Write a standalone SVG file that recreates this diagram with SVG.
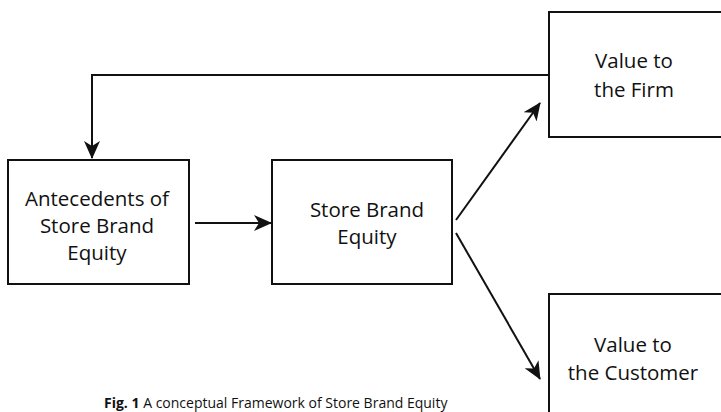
<svg xmlns="http://www.w3.org/2000/svg" width="721" height="412" viewBox="0 0 721 412">
<style>
.box{fill:#fff;stroke:#111;stroke-width:2}
.t{font-family:"Open Sans","Noto Sans",sans-serif;font-size:20.5px;fill:#111;text-anchor:middle}
.c{stroke:#111;stroke-width:2;fill:none}
.cap{font-family:"Open Sans","Noto Sans",sans-serif;font-size:14px;fill:#111}
</style>
<defs>
<marker id="ah" markerWidth="18" markerHeight="16" refX="17" refY="8" orient="auto" markerUnits="userSpaceOnUse">
<path d="M0,0 L18,8 L0,16 L5,8 Z" fill="#111"/>
</marker>
</defs>
<g id="connectors">
<polyline class="c" points="549,75 92,75 92,158" marker-end="url(#ah)"/>
<line class="c" x1="195" y1="223" x2="271" y2="223" marker-end="url(#ah)"/>
<line class="c" x1="456" y1="220" x2="540" y2="103" marker-end="url(#ah)"/>
<line class="c" x1="456" y1="233" x2="540" y2="379" marker-end="url(#ah)"/>
</g>
<g id="antecedents">
<rect class="box" x="8" y="160" width="181" height="124"/>
<text class="t" x="97" y="206">Antecedents of</text>
<text class="t" x="97" y="233">Store Brand</text>
<text class="t" x="97" y="260">Equity</text>
</g>
<g id="equity">
<rect class="box" x="272" y="160" width="180" height="124"/>
<text class="t" x="367" y="217">Store Brand</text>
<text class="t" x="367" y="244">Equity</text>
</g>
<g id="firm">
<rect class="box" x="549" y="12" width="180" height="125"/>
<text class="t" x="634" y="68">Value to</text>
<text class="t" x="634" y="97">the Firm</text>
</g>
<g id="customer">
<rect class="box" x="549" y="294" width="180" height="130"/>
<text class="t" x="633" y="352">Value to</text>
<text class="t" x="633" y="380">the Customer</text>
</g>
<text class="cap" x="104" y="408"><tspan font-weight="bold">Fig. 1</tspan> A conceptual Framework of Store Brand Equity</text>
</svg>
